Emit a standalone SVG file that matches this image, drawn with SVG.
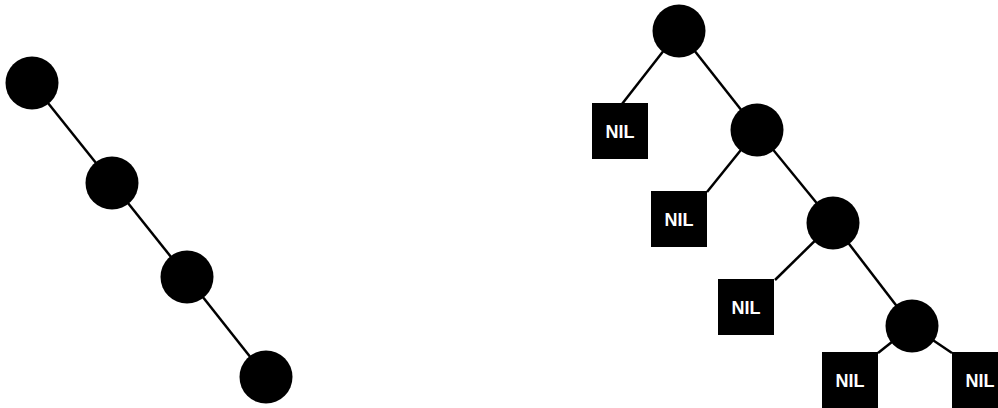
<svg xmlns="http://www.w3.org/2000/svg" width="998" height="408" viewBox="0 0 998 408">
  <style>
    .edge { stroke: #000; stroke-width: 2.5; fill: none; }
    .node { fill: #000; }
    .nil { fill: #000; }
    .label { fill: #fff; font-family: "Liberation Sans", Arial, sans-serif; font-weight: bold; font-size: 18px; text-anchor: middle; }
  </style>
  <rect width="998" height="408" fill="#fff"/>

  <g id="connectors">
    <!-- degenerate chain -->
    <line class="edge" x1="32" y1="83" x2="112" y2="183"/>
    <line class="edge" x1="112" y1="183" x2="187" y2="277"/>
    <line class="edge" x1="187" y1="277" x2="266" y2="377"/>
    <!-- tree with NIL leaves -->
    <line class="edge" x1="679" y1="31" x2="622" y2="104"/>
    <line class="edge" x1="679" y1="31" x2="757" y2="130"/>
    <line class="edge" x1="757" y1="130" x2="707" y2="192"/>
    <line class="edge" x1="757" y1="130" x2="833" y2="223"/>
    <line class="edge" x1="833" y1="223" x2="775" y2="280"/>
    <line class="edge" x1="833" y1="223" x2="912" y2="326"/>
    <line class="edge" x1="912" y1="326" x2="878" y2="353"/>
    <line class="edge" x1="912" y1="326" x2="952" y2="353"/>
  </g>

  <g id="a1"><circle class="node" cx="32" cy="83" r="26.5"/></g>
  <g id="a2"><circle class="node" cx="112" cy="183" r="26.5"/></g>
  <g id="a3"><circle class="node" cx="187" cy="277" r="26.5"/></g>
  <g id="a4"><circle class="node" cx="266" cy="377" r="26.5"/></g>

  <g id="b1"><circle class="node" cx="679" cy="31" r="26.5"/></g>
  <g id="b2"><circle class="node" cx="757" cy="130" r="26.5"/></g>
  <g id="b3"><circle class="node" cx="833" cy="223" r="26.5"/></g>
  <g id="b4"><circle class="node" cx="912" cy="326" r="26.5"/></g>

  <g id="nil1"><rect class="nil" x="592" y="103" width="56" height="56"/><text class="label" x="620" y="137.5">NIL</text></g>
  <g id="nil2"><rect class="nil" x="651" y="191" width="56" height="56"/><text class="label" x="679" y="225.5">NIL</text></g>
  <g id="nil3"><rect class="nil" x="718" y="279" width="56" height="56"/><text class="label" x="746" y="313.5">NIL</text></g>
  <g id="nil4"><rect class="nil" x="822" y="352" width="56" height="56"/><text class="label" x="850" y="386.5">NIL</text></g>
  <g id="nil5"><rect class="nil" x="952" y="352" width="56" height="56"/><text class="label" x="980" y="386.5">NIL</text></g>
</svg>
